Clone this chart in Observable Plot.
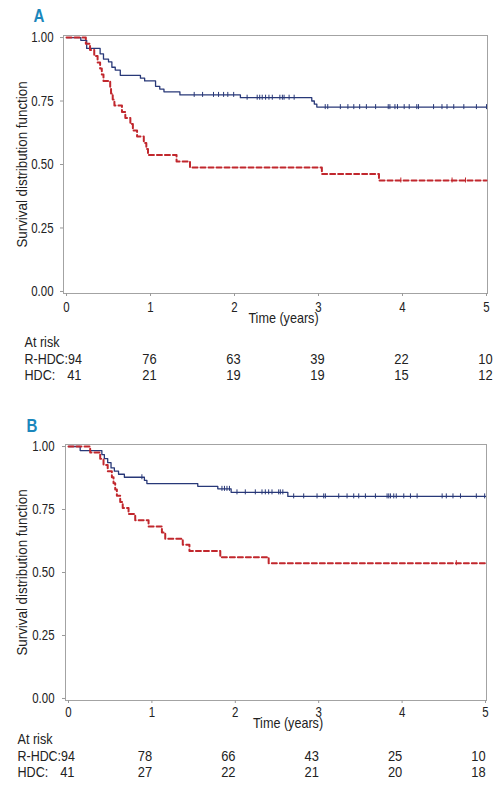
<!DOCTYPE html>
<html>
<head>
<meta charset="utf-8">
<script src="https://cdn.jsdelivr.net/npm/d3@7"></script>
<script src="https://cdn.jsdelivr.net/npm/@observablehq/plot@0.6"></script>
<style>
  html, body { margin: 0; padding: 0; background: white; }
  #chart svg { display: block; }
</style>
</head>
<body>
<div id="chart"></div>
<script>
// ---------- Data ----------
const xTicks = [0, 1, 2, 3, 4, 5];
const yTicks = [0, 0.25, 0.5, 0.75, 1];
const riskTimes = [0, 1, 2, 3, 4, 5];

// Panel A
const blueA_t = [0, 0.17, 0.24, 0.40, 0.44, 0.50, 0.54, 0.58, 0.64, 0.88, 0.93, 1.06, 1.11, 1.16, 1.35, 2.07, 2.92, 2.95, 2.98];
const blueA_s = [1, 0.989, 0.957, 0.936, 0.915, 0.904, 0.883, 0.872, 0.851, 0.840, 0.829, 0.808, 0.797, 0.786, 0.774, 0.763, 0.750, 0.738, 0.726];
const blueA_c = [1.52, 1.62, 1.75, 1.81, 1.87, 1.92, 1.99, 2.15, 2.27, 2.30, 2.33, 2.37, 2.41, 2.45, 2.54, 2.57, 2.59, 2.65, 2.71, 3.08, 3.11, 3.26, 3.35, 3.42, 3.49, 3.57, 3.68, 3.83, 3.85, 3.91, 3.94, 4.02, 4.08, 4.17, 4.19, 4.37, 4.47, 4.53, 4.61, 4.73, 4.88, 5.0];
const redA_t = [0, 0.23, 0.28, 0.33, 0.37, 0.40, 0.42, 0.44, 0.52, 0.53, 0.55, 0.57, 0.66, 0.70, 0.76, 0.79, 0.84, 0.92, 0.95, 0.97, 1.31, 1.47, 3.04, 3.72];
const redA_s = [1, 0.976, 0.951, 0.927, 0.902, 0.878, 0.854, 0.829, 0.805, 0.780, 0.756, 0.732, 0.707, 0.683, 0.659, 0.634, 0.610, 0.585, 0.561, 0.537, 0.512, 0.488, 0.463, 0.437];
const redA_c = [3.98, 4.59, 4.75];
const riskA_R = [94, 76, 63, 39, 22, 10];
const riskA_H = [41, 21, 19, 19, 15, 12];

// Panel B
const blueB_t = [0, 0.14, 0.40, 0.43, 0.47, 0.51, 0.55, 0.60, 0.67, 0.91, 0.94, 1.55, 1.79, 1.95, 2.63];
const blueB_s = [1, 0.984, 0.968, 0.952, 0.936, 0.915, 0.902, 0.890, 0.878, 0.866, 0.853, 0.842, 0.832, 0.818, 0.802];
const blueB_c = [0.88, 1.84, 1.87, 1.90, 1.93, 2.02, 2.12, 2.24, 2.32, 2.36, 2.40, 2.44, 2.52, 2.54, 2.57, 2.70, 2.82, 2.98, 3.06, 3.08, 3.24, 3.34, 3.42, 3.48, 3.56, 3.68, 3.82, 3.84, 3.86, 3.90, 3.93, 4.02, 4.10, 4.18, 4.48, 4.53, 4.61, 4.70, 4.89, 4.99];
const redB_t = [0, 0.26, 0.38, 0.42, 0.47, 0.52, 0.54, 0.56, 0.58, 0.62, 0.65, 0.72, 0.80, 0.96, 1.12, 1.16, 1.37, 1.45, 1.82, 2.40];
const redB_s = [1, 0.976, 0.951, 0.927, 0.902, 0.878, 0.854, 0.829, 0.805, 0.780, 0.756, 0.732, 0.707, 0.683, 0.659, 0.634, 0.610, 0.585, 0.561, 0.537];
const redB_c = [4.65];
const riskB_R = [94, 78, 66, 43, 25, 10];
const riskB_H = [41, 27, 22, 21, 20, 18];

// ---------- Helpers ----------
const FONT = "'Liberation Sans', Arial, sans-serif";
const BLUE = "#283878";
const RED = "#c1272d";
const LETTER = "#1b87bc";
const INK = "#222";
const TMAX = 5;

function steps(ts, ss) {
  const d = ts.map((t, i) => ({t, s: ss[i]}));
  d.push({t: TMAX, s: ss[ss.length - 1]});
  return d;
}
function censor(cs, ts, ss) {
  return cs.map(c => {
    let s = ss[0];
    for (let i = 0; i < ts.length; i++) if (ts[i] <= c) s = ss[i];
    return {t: c, s};
  });
}

function panel(p) {
  const rowR = riskTimes.map((t, i) => ({t, v: String(p.riskR[i])})).slice(1);
  const rowH = riskTimes.map((t, i) => ({t, v: String(p.riskH[i])})).slice(1);
  const txt = {fontSize: 15, fill: INK, lineAnchor: "middle"};
  return Plot.plot({
    width: 502,
    height: p.height,
    marginLeft: p.ml,
    marginRight: p.mr,
    marginTop: p.mt,
    marginBottom: p.mb,
    style: {fontFamily: FONT, fontSize: "14px", color: INK, background: "white"},
    x: {domain: [-0.036, 5.012]},
    y: {domain: [-0.008, 1.008]},
    marks: [
      Plot.frame({stroke: "#a3a3a3"}),
      Plot.axisY(yTicks, {tickSize: 3, tickPadding: p.yPad, tickFormat: d3.format(".2f"), label: null, stroke: "#999", fontSize: 14.5}),
      Plot.axisX(xTicks, {tickSize: 3, tickPadding: p.xPad, label: null, stroke: "#999", fontSize: 14.5}),
      Plot.line(steps(p.blueT, p.blueS), {x: "t", y: "s", curve: "step-after", stroke: BLUE, strokeWidth: 1.3}),
      Plot.ruleX(censor(p.blueC, p.blueT, p.blueS), {x: "t", y1: "s", y2: "s", insetTop: -2.5, insetBottom: -2.5, stroke: BLUE, strokeWidth: 1}),
      Plot.line(steps(p.redT, p.redS), {x: "t", y: "s", curve: "step-after", stroke: RED, strokeWidth: 2, strokeDasharray: "5,3"}),
      Plot.ruleX(censor(p.redC, p.redT, p.redS), {x: "t", y1: "s", y2: "s", insetTop: -2.5, insetBottom: -2.5, stroke: RED, strokeWidth: 1}),
      // panel letter
      Plot.text([p.letter], {text: d => d, frameAnchor: "top-left", textAnchor: "start", lineAnchor: "middle", dx: p.letterDx, dy: p.letterDy, fontSize: 18, fontWeight: "bold", fill: LETTER}),
      // y label
      Plot.text(["Survival distribution function"], {...txt, text: d => d, frameAnchor: "left", textAnchor: "middle", rotate: -90, dx: p.yLabDx}),
      // x label
      Plot.text(["Time (years)"], {...txt, text: d => d, frameAnchor: "bottom", textAnchor: "middle", dx: p.xLabDx, dy: p.xLabDy}),
      // at risk table
      Plot.text(["At risk"], {...txt, text: d => d, frameAnchor: "bottom-left", textAnchor: "start", dx: p.tabDx, dy: p.rowY[0]}),
      Plot.text(["R-HDC:" + p.riskR[0]], {...txt, text: d => d, frameAnchor: "bottom-left", textAnchor: "start", dx: p.tabDx, dy: p.rowY[1]}),
      Plot.text(["HDC:"], {...txt, text: d => d, frameAnchor: "bottom-left", textAnchor: "start", dx: p.tabDx, dy: p.rowY[2]}),
      Plot.text([{t: riskTimes[0], v: String(p.riskH[0])}], {...txt, x: "t", text: "v", frameAnchor: "bottom", textAnchor: "end", dx: p.firstDx, dy: p.rowY[2]}),
      Plot.text(rowR, {...txt, x: "t", text: "v", frameAnchor: "bottom", textAnchor: "middle", dx: p.colDx, dy: p.rowY[1]}),
      Plot.text(rowH, {...txt, x: "t", text: "v", frameAnchor: "bottom", textAnchor: "middle", dx: p.colDx, dy: p.rowY[2]})
    ]
  });
}

const chart = document.getElementById("chart");
chart.append(panel({
  letter: "A", height: 390, ml: 63, mr: 15, mt: 35, mb: 97,
  yPad: 7, xPad: 5,
  blueT: blueA_t, blueS: blueA_s, blueC: blueA_c,
  redT: redA_t, redS: redA_s, redC: redA_c,
  riskR: riskA_R, riskH: riskA_H,
  letterDx: -30, letterDy: -19, yLabDx: -41, xLabDx: 8, xLabDy: 25,
  tabDx: -39, rowY: [49, 66, 82], firstDx: 15, colDx: -1
}));
chart.append(panel({
  letter: "B", height: 405, ml: 65, mr: 16, mt: 54, mb: 95,
  yPad: 8, xPad: 3,
  blueT: blueB_t, blueS: blueB_s, blueC: blueB_c,
  redT: redB_t, redS: redB_s, redC: redB_c,
  riskR: riskB_R, riskH: riskB_H,
  letterDx: -39, letterDy: -18, yLabDx: -43, xLabDx: 12, xLabDy: 23,
  tabDx: -48, rowY: [39, 56, 72], firstDx: 6, colDx: -7
}));

// Condense glyphs horizontally (the reference uses a condensed sans face)
chart.querySelectorAll("svg text").forEach(el => {
  if (el.querySelector("tspan")) return;
  const w = el.getComputedTextLength();
  if (!w) return;
  let f = 0.84;
  const label = el.closest("[aria-label]");
  const aria = label ? label.getAttribute("aria-label") : "";
  const s = el.textContent;
  if (s === "Survival distribution function") f = 0.89;
  else if (/tick label/.test(aria)) f = 0.79;
  else if (/^\d+$/.test(s)) f = 0.86;
  else if (/^R-HDC:/.test(s)) f = 0.83;
  el.setAttribute("textLength", (w * f).toFixed(2));
  el.setAttribute("lengthAdjust", "spacingAndGlyphs");
});
</script>
</body>
</html>
